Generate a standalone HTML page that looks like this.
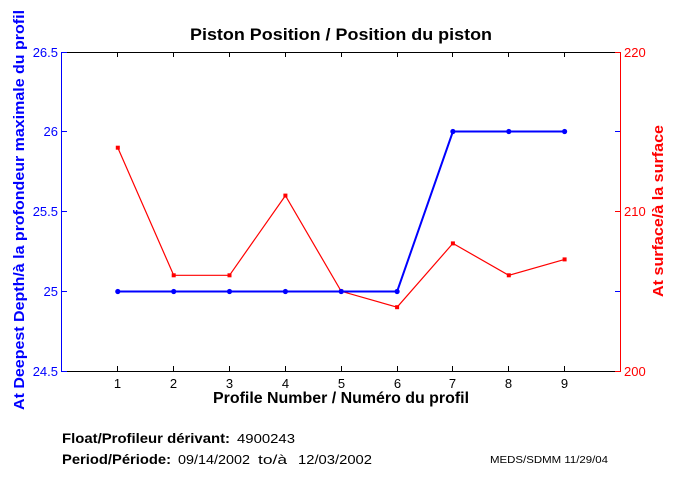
<!DOCTYPE html>
<html>
<head>
<meta charset="utf-8">
<style>
  html, body { margin:0; padding:0; background:#fff; }
  svg { display:block; }
  text { font-family: "Liberation Sans", "DejaVu Sans", sans-serif; }
</style>
</head>
<body>
<svg width="680" height="500" viewBox="0 0 680 500" xmlns="http://www.w3.org/2000/svg">
  <rect x="0" y="0" width="680" height="500" fill="#fff"/>

  <!-- Title -->
  <text x="341" y="40" font-size="17" font-weight="bold" text-anchor="middle" textLength="302" lengthAdjust="spacingAndGlyphs" fill="#000">Piston Position / Position du piston</text>

  <g shape-rendering="crispEdges">
    <line x1="62" y1="52.5" x2="621" y2="52.5" stroke="#000" stroke-width="1"/>
    <line x1="62" y1="371.5" x2="621" y2="371.5" stroke="#000" stroke-width="1"/>
    <g stroke="#000" stroke-width="1">
      <line x1="117.5" y1="52" x2="117.5" y2="57"/>
      <line x1="173.5" y1="52" x2="173.5" y2="57"/>
      <line x1="229.5" y1="52" x2="229.5" y2="57"/>
      <line x1="285.5" y1="52" x2="285.5" y2="57"/>
      <line x1="341.5" y1="52" x2="341.5" y2="57"/>
      <line x1="397.5" y1="52" x2="397.5" y2="57"/>
      <line x1="452.5" y1="52" x2="452.5" y2="57"/>
      <line x1="508.5" y1="52" x2="508.5" y2="57"/>
      <line x1="564.5" y1="52" x2="564.5" y2="57"/>
      <line x1="117.5" y1="366" x2="117.5" y2="371"/>
      <line x1="173.5" y1="366" x2="173.5" y2="371"/>
      <line x1="229.5" y1="366" x2="229.5" y2="371"/>
      <line x1="285.5" y1="366" x2="285.5" y2="371"/>
      <line x1="341.5" y1="366" x2="341.5" y2="371"/>
      <line x1="397.5" y1="366" x2="397.5" y2="371"/>
      <line x1="452.5" y1="366" x2="452.5" y2="371"/>
      <line x1="508.5" y1="366" x2="508.5" y2="371"/>
      <line x1="564.5" y1="366" x2="564.5" y2="371"/>
    </g>

    <line x1="620.5" y1="52" x2="620.5" y2="372" stroke="#f00" stroke-width="1"/>
    <g stroke="#00f" stroke-width="1">
      <line x1="615" y1="131.5" x2="620" y2="131.5"/>
      <line x1="615" y1="291.5" x2="620" y2="291.5"/>
    </g>
    <g stroke="#f00" stroke-width="1">
      <line x1="615" y1="52.5" x2="621" y2="52.5"/>
      <line x1="615" y1="211.5" x2="621" y2="211.5"/>
      <line x1="615" y1="371.5" x2="621" y2="371.5"/>
      <line x1="62" y1="211.5" x2="67" y2="211.5"/>
    </g>

    <line x1="61.5" y1="52" x2="61.5" y2="372" stroke="#00f" stroke-width="1"/>
    <g stroke="#00f" stroke-width="1">
      <line x1="62" y1="52.5" x2="67" y2="52.5"/>
      <line x1="62" y1="131.5" x2="67" y2="131.5"/>
      <line x1="62" y1="211.5" x2="67" y2="211.5"/>
      <line x1="62" y1="291.5" x2="67" y2="291.5"/>
      <line x1="62" y1="371.5" x2="67" y2="371.5"/>
    </g>
  </g>

  <g font-size="13" fill="#00f" text-anchor="end">
    <text x="58" y="57">26.5</text>
    <text x="58" y="136">26</text>
    <text x="58" y="216">25.5</text>
    <text x="58" y="296">25</text>
    <text x="58" y="376">24.5</text>
  </g>
  <g font-size="13" fill="#f00" text-anchor="start">
    <text x="624" y="57">220</text>
    <text x="624" y="216">210</text>
    <text x="624" y="376">200</text>
  </g>
  <g font-size="13" fill="#000" text-anchor="middle">
    <text x="117.5" y="388">1</text>
    <text x="173.5" y="388">2</text>
    <text x="229.5" y="388">3</text>
    <text x="285.5" y="388">4</text>
    <text x="341.5" y="388">5</text>
    <text x="397.5" y="388">6</text>
    <text x="452.5" y="388">7</text>
    <text x="508.5" y="388">8</text>
    <text x="564.5" y="388">9</text>
  </g>

  <text x="341" y="403" font-size="16" font-weight="bold" text-anchor="middle" textLength="256" lengthAdjust="spacingAndGlyphs" fill="#000">Profile Number / Numéro du profil</text>

  <text transform="translate(24,210) rotate(-90)" font-size="15" font-weight="bold" text-anchor="middle" textLength="400" lengthAdjust="spacingAndGlyphs" fill="#00f">At Deepest Depth/à la profondeur maximale du profil</text>

  <text transform="translate(663,211) rotate(-90)" font-size="15" font-weight="bold" text-anchor="middle" textLength="172" lengthAdjust="spacingAndGlyphs" fill="#f00">At surface/à la surface</text>

  <polyline fill="none" stroke="#f00" stroke-width="1.2"
    points="117.8,147.7 173.7,275.3 229.5,275.3 285.4,195.6 341.2,291.3 397.1,307.2 452.9,243.4 508.8,275.3 564.6,259.4"/>
  <g fill="#f00">
    <rect x="115.8" y="145.7" width="4" height="4"/>
    <rect x="171.7" y="273.3" width="4" height="4"/>
    <rect x="227.5" y="273.3" width="4" height="4"/>
    <rect x="283.4" y="193.6" width="4" height="4"/>
    <rect x="339.2" y="289.3" width="4" height="4"/>
    <rect x="395.1" y="305.2" width="4" height="4"/>
    <rect x="450.9" y="241.4" width="4" height="4"/>
    <rect x="506.8" y="273.3" width="4" height="4"/>
    <rect x="562.6" y="257.4" width="4" height="4"/>
  </g>

  <polyline fill="none" stroke="#00f" stroke-width="2"
    points="117.8,291.5 173.7,291.5 229.5,291.5 285.4,291.5 341.2,291.5 397.1,291.5 452.9,131.5 508.8,131.5 564.6,131.5"/>
  <g fill="#00f">
    <circle cx="117.8" cy="291.5" r="2.6"/>
    <circle cx="173.7" cy="291.5" r="2.6"/>
    <circle cx="229.5" cy="291.5" r="2.6"/>
    <circle cx="285.4" cy="291.5" r="2.6"/>
    <circle cx="341.2" cy="291.5" r="2.6"/>
    <circle cx="397.1" cy="291.5" r="2.6"/>
    <circle cx="452.9" cy="131.5" r="2.6"/>
    <circle cx="508.8" cy="131.5" r="2.6"/>
    <circle cx="564.6" cy="131.5" r="2.6"/>
  </g>

  <!-- footer -->
  <text x="62" y="443" font-size="14" font-weight="bold" textLength="168" lengthAdjust="spacingAndGlyphs" fill="#000">Float/Profileur dérivant:</text>
  <text x="237" y="443" font-size="13" textLength="58" lengthAdjust="spacingAndGlyphs" fill="#000">4900243</text>
  <text x="62" y="464" font-size="14" font-weight="bold" textLength="109" lengthAdjust="spacingAndGlyphs" fill="#000">Period/Période:</text>
  <text x="178" y="464" font-size="13" textLength="72" lengthAdjust="spacingAndGlyphs" fill="#000">09/14/2002</text>
  <text x="258" y="464" font-size="13" textLength="29" lengthAdjust="spacingAndGlyphs" fill="#000">to/à</text>
  <text x="298" y="464" font-size="13" textLength="74" lengthAdjust="spacingAndGlyphs" fill="#000">12/03/2002</text>
  <text x="490" y="463" font-size="10" textLength="118" lengthAdjust="spacingAndGlyphs" fill="#000">MEDS/SDMM  11/29/04</text>
</svg>
</body>
</html>
